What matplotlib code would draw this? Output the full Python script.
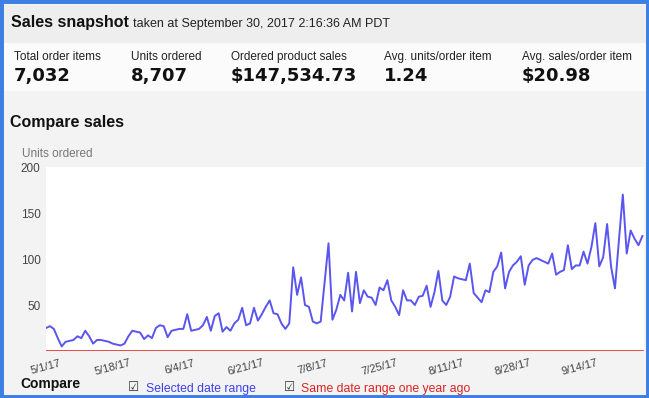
import numpy as np
import pandas as pd
import matplotlib.pyplot as plt
from matplotlib.patches import Rectangle

plt.rcParams['font.family'] = ['Liberation Sans', 'DejaVu Sans']

W, H = 649, 398

# daily units ordered, 5/1/17 .. 9/30/17
units = [25, 27, 24, 14, 5, 10, 11, 12, 16, 14,
         22, 16, 8, 12, 12, 11, 10, 8, 7, 6,
         8, 16, 22, 21, 20, 13, 17, 14, 25, 28,
         27, 15, 22, 23, 24, 24, 40, 22, 23, 24,
         28, 37, 22, 38, 41, 21, 26, 22, 30, 34,
         47, 28, 30, 47, 33, 40, 48, 55, 41, 40,
         30, 24, 30, 91, 61, 80, 50, 48, 32, 30,
         32, 74, 117, 34, 45, 61, 55, 85, 43, 86,
         52, 66, 59, 58, 50, 69, 66, 77, 55, 48,
         39, 66, 55, 55, 50, 59, 60, 71, 48, 64,
         87, 55, 50, 59, 81, 79, 78, 77, 95, 63,
         58, 53, 66, 64, 86, 92, 107, 68, 86, 93,
         97, 103, 72, 93, 99, 101, 99, 97, 95, 106,
         83, 86, 88, 115, 89, 93, 93, 108, 95, 113,
         139, 92, 102, 138, 92, 68, 120, 170, 106, 131,
         122, 115, 125]
last_year = [0] * len(units)
days = pd.date_range('2017-05-01', periods=len(units), freq='D')

tick_labels = ['5/1/17', '5/18/17', '6/4/17', '6/21/17', '7/8/17',
               '7/25/17', '8/11/17', '8/28/17', '9/14/17']
yticks = [50, 100, 150, 200]

metric_names = ['Total order items', 'Units ordered', 'Ordered product sales',
                'Avg. units/order item', 'Avg. sales/order item']
metric_values = ['7,032', '8,707', '$147,534.73', '1.24', '$20.98']
metric_x = [14, 131, 231, 384, 522]


def fx(x):
    return x / W


def fy(y):
    return 1 - y / H


fig = plt.figure(figsize=(W / 100, H / 100), dpi=100)
fig.patch.set_facecolor('#f3f3f3')

# background bands
fig.add_artist(Rectangle((0, fy(43)), 1, fy(5) - fy(43), transform=fig.transFigure,
                         facecolor='#eeeeee', edgecolor='none', zorder=0))
fig.add_artist(Rectangle((0, fy(91)), 1, fy(43) - fy(91), transform=fig.transFigure,
                         facecolor='#fbfbfb', edgecolor='none', zorder=0))

fig.text(fx(11), fy(23), 'Sales snapshot', fontsize=11.5, fontweight='bold',
         color='#111111', va='center')
fig.text(fx(133), fy(24), 'taken at September 30, 2017 2:16:36 AM PDT', fontsize=9,
         color='#222222', va='center')

for name, val, x in zip(metric_names, metric_values, metric_x):
    fig.text(fx(x), fy(57), name, fontsize=8.5, color='#222222', va='center')
    fig.text(fx(x), fy(76), val, fontsize=13, fontweight='bold', color='#111111',
             va='center', family='DejaVu Sans')

fig.text(fx(10), fy(122), 'Compare sales', fontsize=11.5, fontweight='bold',
         color='#111111', va='center')
fig.text(fx(22), fy(154), 'Units ordered', fontsize=8.5, color='#777777', va='center')

ax = fig.add_axes([fx(46), fy(351), fx(644) - fx(46), fy(167) - fy(351)])
ax.set_facecolor('white')
x = np.arange(len(units))
ax.plot(x, last_year, color='#e03a3a', lw=2, zorder=2)
ax.plot(x, units, color='#5a55f0', lw=1.4, zorder=3)
ax.set_xlim(0, len(units) - 0.6)
ax.set_ylim(0, 200)
ax.set_yticks(yticks)
ax.set_yticklabels([str(v) for v in yticks], fontsize=8.5, color='#444444')
ax.set_xticks(np.arange(len(tick_labels)) * 17)
ax.set_xticklabels(tick_labels, rotation=15, ha='center', fontsize=8,
                   color='#444444')
ax.tick_params(length=0, pad=4)
ax.tick_params(axis='x', pad=5)
for s in ax.spines.values():
    s.set_visible(False)

fig.text(fx(20), fy(384), 'Compare', fontsize=10, fontweight='bold', color='#111111',
         va='center')
fig.text(fx(128), fy(388), '\u2611', fontsize=9, color='#333333', va='center')
fig.text(fx(146), fy(389), 'Selected date range', fontsize=8.8, color='#4040ee',
         va='center')
fig.text(fx(284), fy(388), '\u2611', fontsize=9, color='#333333', va='center')
fig.text(fx(301), fy(389), 'Same date range one year ago', fontsize=8.8,
         color='#dd2222', va='center')

# blue frame
fig.add_artist(Rectangle((0, 0), 1, 1, transform=fig.transFigure, facecolor='none',
                         edgecolor='#3d7fe3', lw=5, zorder=10))

fig.savefig('out.png', dpi=100, facecolor=fig.get_facecolor())
